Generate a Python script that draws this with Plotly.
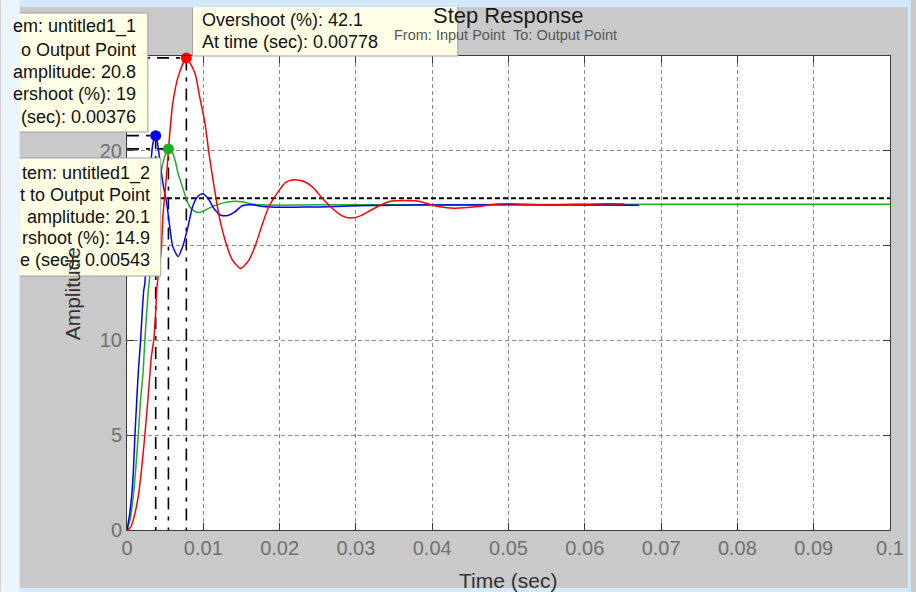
import plotly.graph_objects as go

# ---------------- data ----------------
t_blue = [0, 0.0003, 0.0006, 0.00082, 0.00104, 0.00126, 0.00147, 0.00178, 0.00204, 0.0022,
          0.00234, 0.00256, 0.0029, 0.0032, 0.0034, 0.00376, 0.0040, 0.0043, 0.0047, 0.0052,
          0.0056, 0.0060, 0.0067, 0.0073, 0.0080, 0.0086, 0.0093, 0.0099, 0.0106, 0.0115,
          0.0123, 0.0132, 0.0141, 0.0151, 0.0164, 0.0178, 0.0205, 0.0235, 0.0265, 0.030,
          0.035, 0.040, 0.050, 0.060, 0.0671]
v_blue = [0, 0.7, 1.76, 3.0, 5.0, 6.7, 8.27, 10.0, 11.8, 12.66,
          13.0, 15.1, 17.9, 19.7, 20.4, 20.8, 20.4, 19.5, 18.3, 17.24,
          16.0, 14.95, 14.42, 14.95, 16.0, 17.06, 17.6, 17.73, 17.5, 16.9,
          16.6, 16.59, 16.77, 17.1, 17.15, 17.06, 17.02, 17.03, 17.05, 17.1,
          17.13, 17.14, 17.15, 17.14, 17.13]

t_green = [0, 0.0004, 0.00082, 0.00117, 0.00147, 0.00178, 0.0021, 0.00234, 0.00264, 0.0028,
           0.0029, 0.0035, 0.0040, 0.0047, 0.0052, 0.00543, 0.0058, 0.0063, 0.0067, 0.0071,
           0.0076, 0.0082, 0.0089, 0.0095, 0.0104, 0.0112, 0.0125, 0.0138, 0.0151, 0.0164,
           0.0178, 0.020, 0.025, 0.030, 0.040, 0.060, 0.080, 0.100]
v_green = [0, 0.53, 1.76, 3.34, 5.0, 6.86, 8.27, 10.0, 11.8, 12.66,
           13.0, 15.8, 17.6, 19.35, 19.96, 20.1, 20.05, 19.5, 18.8, 18.3,
           17.68, 17.06, 16.8, 16.75, 16.9, 17.06, 17.24, 17.33, 17.31, 17.2,
           17.15, 17.13, 17.15, 17.15, 17.16, 17.17, 17.18, 17.18]

t_red = [0, 0.0004, 0.00082, 0.00147, 0.0019, 0.00234, 0.00277, 0.0032, 0.0035, 0.0038,
         0.0039, 0.0045, 0.0047, 0.0052, 0.0056, 0.0060, 0.0067, 0.00778, 0.0089, 0.0095,
         0.0102, 0.0108, 0.0115, 0.0121, 0.0130, 0.0138, 0.0149, 0.0160, 0.0169, 0.0178,
         0.0186, 0.0197, 0.0208, 0.0219, 0.0232, 0.0243, 0.0256, 0.0269, 0.0282, 0.0293,
         0.0306, 0.0319, 0.0332, 0.0345, 0.0364, 0.0384, 0.0399, 0.0408, 0.0429, 0.0460,
         0.0484, 0.0512, 0.0531, 0.0555, 0.0615, 0.0652]
v_red = [0, 0.1, 0.53, 1.76, 3.17, 5.0, 7.03, 9.15, 10.0, 11.8,
         12.7, 14.8, 16.5, 18.8, 20.9, 22.5, 23.9, 24.9, 24.1, 22.9,
         21.5, 19.7, 17.9, 16.5, 15.1, 14.25, 13.8, 14.25, 15.1, 16.2,
         17.06, 17.77, 18.33, 18.47, 18.38, 18.1, 17.5, 16.97, 16.57, 16.45,
         16.57, 16.85, 17.13, 17.34, 17.38, 17.33, 17.15, 17.06, 16.97, 17.06,
         17.19, 17.2, 17.17, 17.15, 17.2, 17.2]

peak_time = [0.00376, 0.00543, 0.00778]      # blue, green, red
peak_amp = [20.8, 20.1, 24.9]
steady_state = 17.5

x_ticks = [0, 0.01, 0.02, 0.03, 0.04, 0.05, 0.06, 0.07, 0.08, 0.09, 0.1]
x_labels = ['0', '0.01', '0.02', '0.03', '0.04', '0.05', '0.06', '0.07', '0.08', '0.09', '0.1']
y_ticks = [0, 5, 10, 15, 20]
y_labels = ['0', '5', '10', '15', '20']

tip_blue = ['em: untitled1_1', 'o Output Point', 'amplitude: 20.8', 'ershoot (%): 19', '(sec): 0.00376']
tip_green = ['tem: untitled1_2', 't to Output Point', 'amplitude: 20.1', 'rshoot (%): 14.9', 'e (sec): 0.00543']
tip_red = ['Overshoot (%): 42.1', 'At time (sec): 0.00778']

# ---------------- layout helpers (pixels -> paper) ----------------
W, H = 916, 592
L, R, T, B = 127, 895, 56, 530


def px(x):
    return (x - L) / (R - L)


def py(y):
    return (B - y) / (B - T)


FONT = 'Liberation Sans, Arial, sans-serif'
RED, BLUE, GREEN = '#ff0000', '#0000ff', '#1fae1f'

fig = go.Figure()

# steady state line
fig.add_trace(go.Scatter(x=[x_ticks[0], x_ticks[-1]], y=[steady_state, steady_state], mode='lines',
                         line=dict(color='#000000', width=2, dash='5px,3px'), hoverinfo='skip'))
# peak characteristic lines
for tp, ap in zip(peak_time, peak_amp):
    fig.add_trace(go.Scatter(x=[0, tp, tp], y=[ap, ap, 0], mode='lines',
                             line=dict(color='#000000', width=1.6, dash='12px,7px,4px,7px'),
                             hoverinfo='skip'))

for tt, vv, col in [(t_green, v_green, GREEN), (t_blue, v_blue, BLUE), (t_red, v_red, RED)]:
    fig.add_trace(go.Scatter(x=tt, y=vv, mode='lines',
                             line=dict(color=col, width=1.5, shape='spline', smoothing=0.6),
                             hoverinfo='skip'))

for tp, ap, col in zip(peak_time, peak_amp, [BLUE, GREEN, RED]):
    fig.add_trace(go.Scatter(x=[tp], y=[ap], mode='markers',
                             marker=dict(color=col, size=11, line=dict(width=0)),
                             cliponaxis=False, hoverinfo='skip'))

shapes = []
annotations = []

TIP_BG = '#ffffe6'
TIP_LINE = '#a0a0a0'
# data tip boxes
for (x0, y0, x1, y1) in [(18, 13, 148, 132), (18, 158, 161, 276), (193, 6, 460, 56)]:
    shapes.append(dict(type='rect', xref='paper', yref='paper', x0=px(x0), x1=px(x1),
                       y0=py(y1), y1=py(y0), fillcolor=TIP_BG, line=dict(color=TIP_LINE, width=1),
                       layer='above'))

# light blue page border around the grey figure
for (x0, y0, x1, y1, c) in [(0, 0, W, 7, '#d3e8fb'), (0, 588, W, H, '#d6eafc'),
                            (0, 0, 19, H, '#ecf5fe'), (913, 0, W, H, '#d0e6fa')]:
    shapes.append(dict(type='rect', xref='paper', yref='paper', x0=px(x0), x1=px(x1),
                       y0=py(y1), y1=py(y0), fillcolor=c, line=dict(width=0), layer='above'))

tipfont = dict(family=FONT, size=18, color='#111111')
for i, s in enumerate(tip_blue):
    annotations.append(dict(text=s, xref='paper', yref='paper', x=px(138), y=py(27 + i * 22.5),
                            xanchor='right', yanchor='middle', showarrow=False, font=tipfont))
for i, s in enumerate(tip_green):
    annotations.append(dict(text=s, xref='paper', yref='paper', x=px(152), y=py(173 + i * 21.8),
                            xanchor='right', yanchor='middle', showarrow=False, font=tipfont))
for i, s in enumerate(tip_red):
    annotations.append(dict(text=s, xref='paper', yref='paper', x=px(200), y=py(20 + i * 22),
                            xanchor='left', yanchor='middle', showarrow=False, font=tipfont))

annotations.append(dict(text='Step Response', xref='paper', yref='paper', x=px(510), y=py(16),
                        xanchor='center', yanchor='middle', showarrow=False,
                        font=dict(family=FONT, size=22, color='#1a1a1a')))
annotations.append(dict(text='From: Input Point  To: Output Point', xref='paper', yref='paper',
                        x=px(508), y=py(35), xanchor='center', yanchor='middle', showarrow=False,
                        font=dict(family=FONT, size=14.5, color='#555555')))
annotations.append(dict(text='Time (sec)', xref='paper', yref='paper', x=px(510), y=py(580),
                        xanchor='center', yanchor='middle', showarrow=False,
                        font=dict(family=FONT, size=21, color='#333333')))
annotations.append(dict(text='Amplitude', xref='paper', yref='paper', x=px(72), y=py(294),
                        xanchor='center', yanchor='middle', textangle=-90, showarrow=False,
                        font=dict(family=FONT, size=21, color='#333333')))

axis_common = dict(showline=True, linecolor='#3a3a3a', linewidth=1, mirror='ticks',
                   ticks='inside', ticklen=7, tickcolor='#3a3a3a', tickwidth=1,
                   showgrid=True, gridcolor='#8a8a8a', gridwidth=1, griddash='4px,3px',
                   zeroline=False, tickfont=dict(family=FONT, size=20, color='#707070'))

fig.update_layout(
    width=W, height=H, autosize=False,
    margin=dict(l=L, r=W - R, t=T, b=H - B, pad=0),
    paper_bgcolor='#c9c9c9', plot_bgcolor='#ffffff',
    showlegend=False,
    xaxis=dict(range=[0, 0.1], tickvals=x_ticks, ticktext=x_labels, **axis_common),
    yaxis=dict(range=[0, 25], tickvals=y_ticks, ticktext=y_labels, **axis_common),
    shapes=shapes, annotations=annotations,
)

fig.write_html('out.html', config={'displayModeBar': False},
               post_script="document.body.style.margin='0';document.body.style.overflow='hidden';")
